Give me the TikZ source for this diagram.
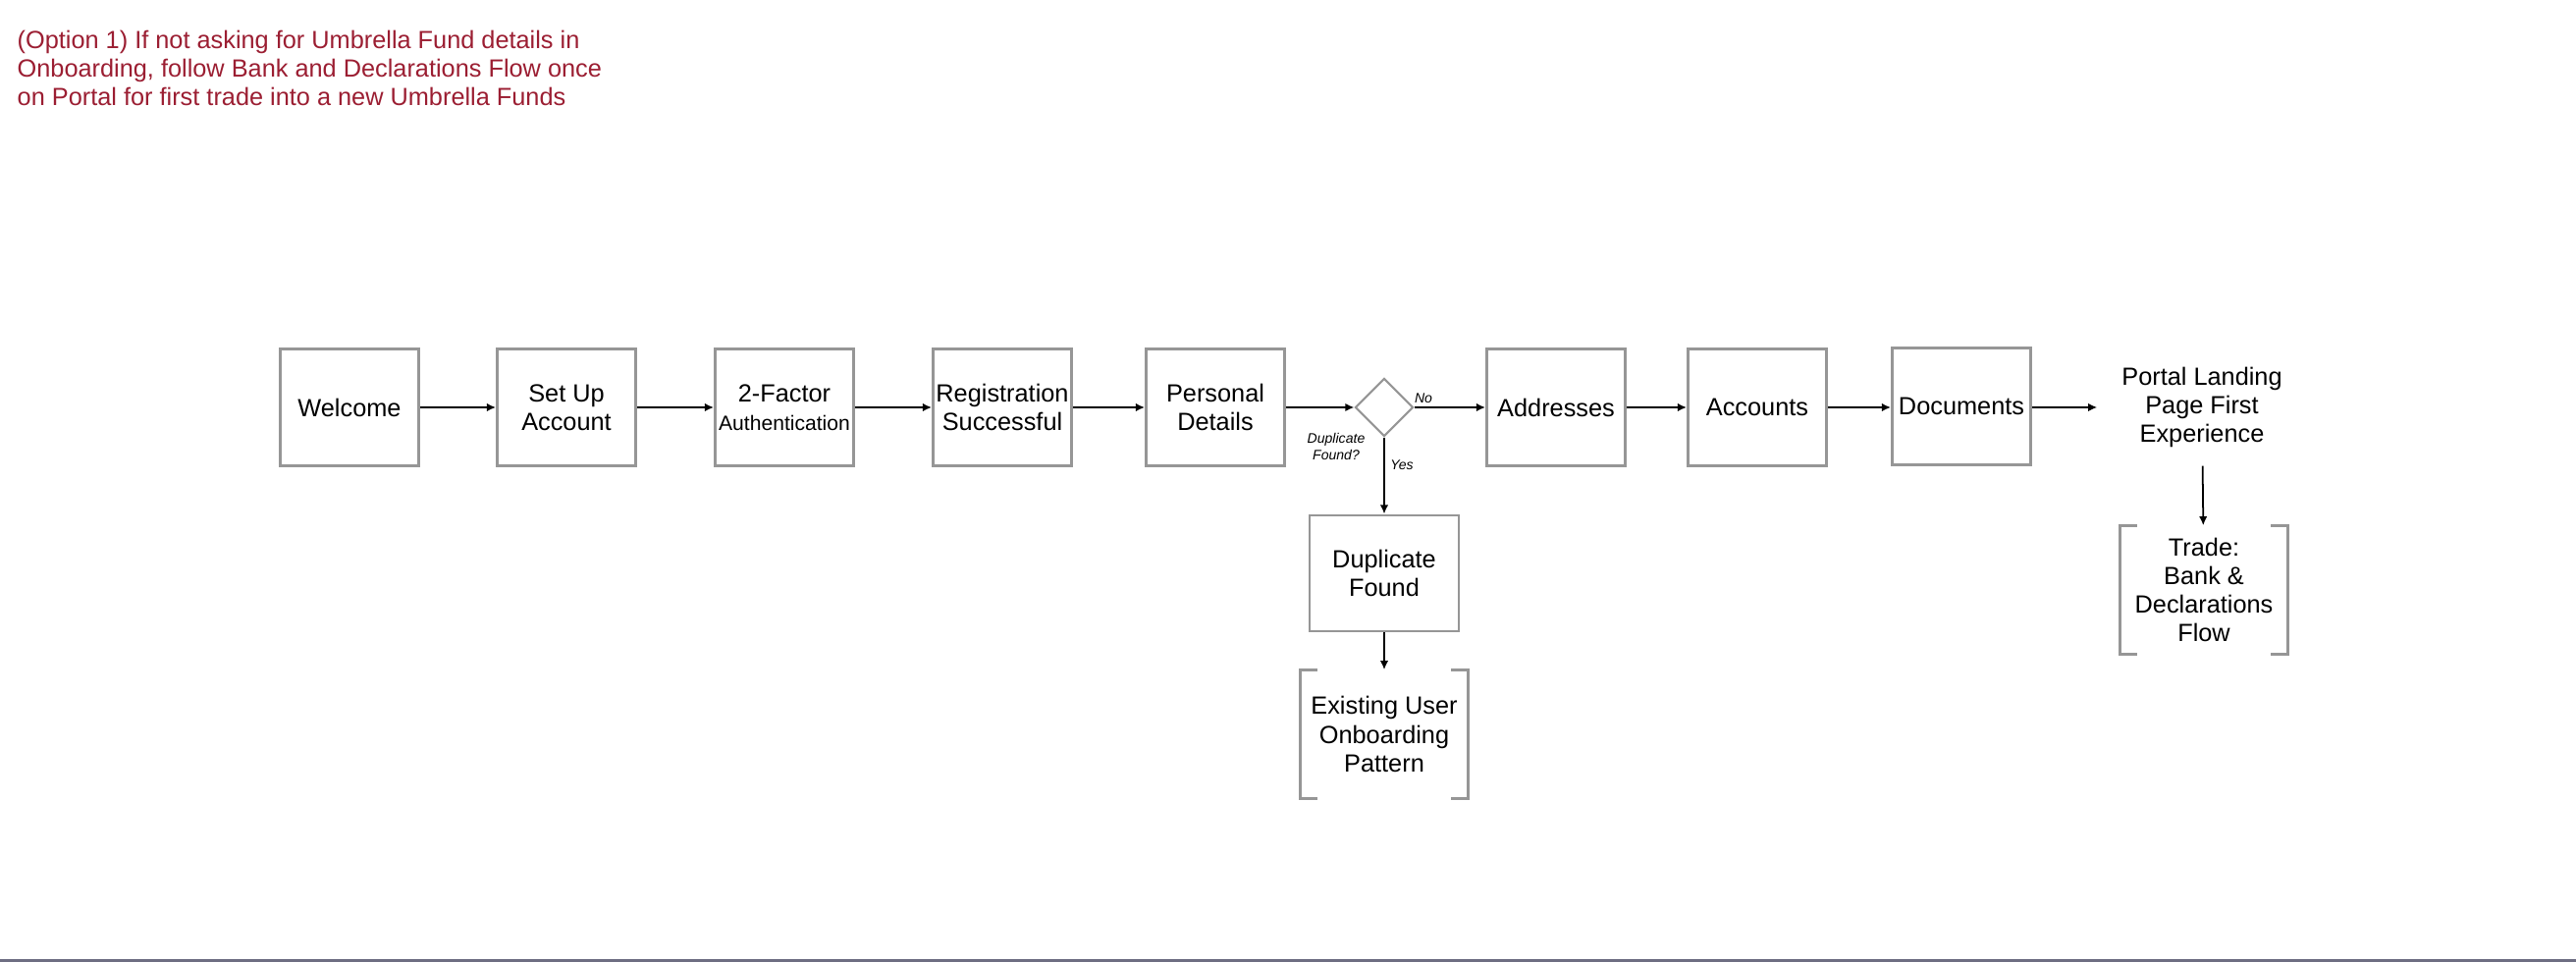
\documentclass[tikz,border=0pt]{standalone}
\usepackage{fontspec}
\setmainfont{Liberation Sans}
\usetikzlibrary{shapes.geometric,arrows.meta}
\definecolor{boxgray}{RGB}{150,150,150}
\definecolor{notered}{RGB}{155,30,50}
\definecolor{rulegray}{RGB}{110,110,130}
\newcommand{\boxfont}{\fontsize{7.2}{8.3}\selectfont}
\newcommand{\tagfont}{\fontsize{4}{4.6}\selectfont\itshape}
\begin{document}
\begin{tikzpicture}[x=0.01cm,y=-0.01cm,
  stepbox/.style={draw=boxgray,line width=0.8pt,minimum width=1.41cm,minimum height=1.19cm,inner sep=0pt,align=center,font=\boxfont},
  linkbox/.style={minimum width=1.69cm,minimum height=1.30cm,inner sep=0pt,align=center,font=\boxfont},
  brk/.style={draw=boxgray,line width=0.8pt},
  flow/.style={draw,line width=0.5pt,-{Latex[length=2.6pt,width=2.4pt]}},
  tag/.style={inner sep=0pt,align=center,font=\tagfont}]
\useasboundingbox (0,0) rectangle (2624,980);

\node[anchor=north west,inner sep=0pt,align=left,font=\boxfont,text=notered] (note) at (17,30)
  {(Option 1) If not asking for Umbrella Fund details in\\Onboarding, follow Bank and Declarations Flow once\\on Portal for first trade into a new Umbrella Funds};

\node[stepbox] (welcome) at (356,415) {Welcome};
\node[stepbox] (setup) at (577,415) {Set Up\\Account};
\node[stepbox] (twofa) at (799,415) {2-Factor\\{\fontsize{6}{7}\selectfont Authentication}};
\node[stepbox] (reg) at (1021,415) {Registration\\Successful};
\node[stepbox] (pers) at (1238,415) {Personal\\Details};
\node[draw=boxgray,line width=0.6pt,diamond,minimum width=0.59cm,minimum height=0.59cm,inner sep=0pt] (dup) at (1410,415) {};
\node[stepbox] (addr) at (1585,415) {Addresses};
\node[stepbox] (acc) at (1790,415) {Accounts};
\node[stepbox] (docs) at (1998,414) {Documents};
\node[minimum width=2.12cm,minimum height=1.18cm,inner sep=0pt,align=center,font=\boxfont] (portal) at (2243,415)
  {Portal Landing\\Page First\\Experience};

\node[stepbox,minimum width=1.52cm,minimum height=1.18cm] (found) at (1410,584) {Duplicate\\Found};
\node[linkbox] (exist) at (1410,748) {Existing User\\Onboarding\\Pattern};
\node[linkbox] (trade) at (2245,601) {Trade:\\Bank \&\\Declarations\\Flow};

\node[tag] (no) at (1450,406) {No};
\node[tag] (q) at (1361,455) {Duplicate\\Found?};
\node[tag] (yes) at (1428,474) {Yes};

% brackets
\path[brk] ([xshift=0.17cm]exist.north west) -- (exist.north west) -- (exist.south west) -- ([xshift=0.17cm]exist.south west);
\path[brk] ([xshift=-0.17cm]exist.north east) -- (exist.north east) -- (exist.south east) -- ([xshift=-0.17cm]exist.south east);
\path[brk] ([xshift=0.17cm]trade.north west) -- (trade.north west) -- (trade.south west) -- ([xshift=0.17cm]trade.south west);
\path[brk] ([xshift=-0.17cm]trade.north east) -- (trade.north east) -- (trade.south east) -- ([xshift=-0.17cm]trade.south east);

\path[flow] (welcome) -- (setup);
\path[flow] (setup) -- (twofa);
\path[flow] (twofa) -- (reg);
\path[flow] (reg) -- (pers);
\path[flow] (pers) -- (dup);
\path[flow] (dup) -- (addr);
\path[flow] (addr) -- (acc);
\path[flow] (acc.east) -- (acc.east -| docs.west);
\path[flow] (docs.east |- portal.west) -- (portal.west);
\path[flow] (dup) -- (found);
\path[flow] (found) -- (exist);
\path[flow] (portal) -- (trade);

\path[draw=rulegray,line width=0.03cm] (0,978.5) -- (2624,978.5);
\end{tikzpicture}
\end{document}
